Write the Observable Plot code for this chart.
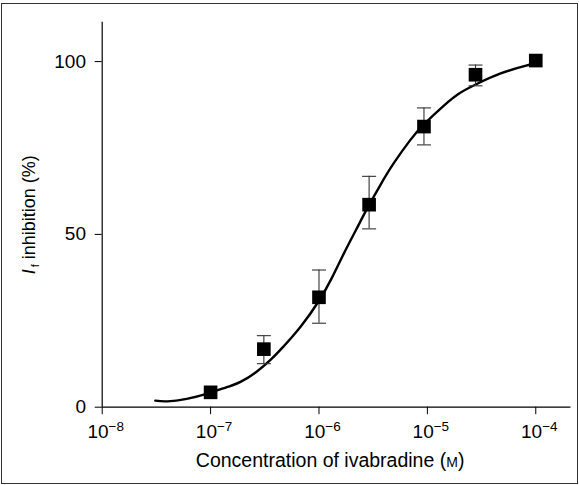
<!DOCTYPE html>
<html>
<head>
<meta charset="utf-8">
<script src="https://cdn.jsdelivr.net/npm/d3@7"></script>
<script src="https://cdn.jsdelivr.net/npm/@observablehq/plot@0.6"></script>
<style>
  html, body { margin: 0; padding: 0; background: #fff; }
  #wrap { position: relative; width: 579px; height: 485px; overflow: hidden; }
  #border { position: absolute; left: 1px; top: 3px; width: 575px; height: 479px;
            border: 1.5px solid #333; pointer-events: none; }
</style>
</head>
<body>
<div id="wrap"><div id="border"></div></div>
<script>
// Measured points: concentration (M), mean inhibition (%), error bar low/high (%)
const concentrations = [1e-7, 3.1e-7, 1e-6, 2.9e-6, 9.3e-6, 2.78e-5, 1e-4];
const inhibition     = [4.3, 16.8, 31.8, 58.6, 81.2, 96.2, 100.3];
const errLow         = [null, 12.6, 24.3, 51.6, 75.9, 93.0, null];
const errHigh        = [null, 20.7, 39.7, 66.8, 86.6, 99.0, null];

// Fitted curve: log10(concentration), inhibition (%)
const curveLogX = [-7.51, -7.40, -7.22, -7.03, -6.85, -6.72, -6.57, -6.45, -6.35, -6.17,
                   -6.00, -5.88, -5.77, -5.66, -5.55, -5.43, -5.31, -5.16, -5.03, -4.85,
                   -4.70, -4.54, -4.33, -4.14, -4.00];
const curveY    = [1.9, 1.7, 2.4, 3.9, 5.8, 7.4, 10.4, 13.6, 16.8, 23.3,
                   30.8, 37.5, 44.5, 51.2, 57.8, 64.5, 70.6, 77.2, 81.9, 87.2,
                   90.9, 93.6, 96.5, 98.4, 99.6];

const xTickExponents = [-8, -7, -6, -5, -4];
const yTicks = [0, 50, 100];
const xLabel = "Concentration of ivabradine (M)";
const yLabel = "If inhibition (%)";

const points = concentrations.map((c, i) => ({c, v: inhibition[i], lo: errLow[i], hi: errHigh[i]}));
const bars = points.filter(d => d.lo != null);
const curve = curveLogX.map((lx, i) => ({c: Math.pow(10, lx), v: curveY[i]}));
const xTicks = xTickExponents.map(e => Math.pow(10, e));

const capSymbol = {
  draw(context) { context.moveTo(-7, 0); context.lineTo(7, 0); }
};

const chart = Plot.plot({
  width: 579,
  height: 485,
  marginLeft: 101.7,
  marginRight: 8.5,
  marginTop: 21.7,
  marginBottom: 78.3,
  style: {fontFamily: "'Liberation Sans', Arial, Helvetica, sans-serif", fontSize: "19px", background: "transparent", color: "#000"},
  x: {type: "log", domain: [1e-8, Math.pow(10, -3.675)]},
  y: {domain: [0, 111.4]},
  marks: [
    Plot.axisX({ticks: xTicks, tickSize: 7.5, tickPadding: 9.8, stroke: "#000", fontSize: 19,
      tickFormat: d => String(Math.round(Math.log10(d))),
      label: xLabel, labelAnchor: "center", labelOffset: 59.6, labelArrow: "none"}),
    Plot.axisY({ticks: yTicks, tickSize: 7, tickPadding: 9.2, stroke: "#000", fontSize: 19,
      label: yLabel, labelAnchor: "center", labelOffset: 80, labelArrow: "none"}),
    Plot.ruleY([0], {stroke: "#000", strokeWidth: 1.2}),
    Plot.ruleX([1e-8], {stroke: "#000", strokeWidth: 1.2}),
    Plot.line(curve, {x: "c", y: "v", curve: "natural", stroke: "#000", strokeWidth: 2.4}),
    Plot.ruleX(bars, {x: "c", y1: "lo", y2: "hi", stroke: "#333", strokeWidth: 1.1}),
    Plot.dot(bars, {x: "c", y: "lo", symbol: capSymbol, stroke: "#333", strokeWidth: 1.1, fill: "none"}),
    Plot.dot(bars, {x: "c", y: "hi", symbol: capSymbol, stroke: "#333", strokeWidth: 1.1, fill: "none"}),
    Plot.dot(points, {x: "c", y: "v", symbol: "square", r: 7.7, fill: "#000", stroke: "none"})
  ]
});

document.getElementById("wrap").prepend(chart);

// Typographic details: superscript exponents, italic I with subscript f, small-cap M
const svg = d3.select(chart);
svg.selectAll('g[aria-label="x-axis tick label"] text').each(function () {
  const e = this.textContent.replace("-", "\u2212");
  this.textContent = "10";
  d3.select(this).attr("dx", "3.5")
    .append("tspan").attr("dy", "-7").attr("font-size", "13.5").text(e);
});
svg.selectAll('g[aria-label="y-axis label"] text').each(function () {
  this.textContent = "";
  const t = d3.select(this).attr("font-size", "18");
  t.append("tspan").attr("font-style", "italic").text("I");
  t.append("tspan").attr("font-size", "11").attr("dy", "4").attr("dx", "2").text("f");
  t.append("tspan").attr("dy", "-4").text(" inhibition (%)");
});
svg.selectAll('g[aria-label="x-axis label"] text').each(function () {
  this.textContent = "";
  const t = d3.select(this).attr("dx", "-6.5").attr("font-size", "19.5");
  t.append("tspan").text("Concentration of ivabradine (");
  t.append("tspan").attr("font-size", "14").text("M");
  t.append("tspan").text(")");
});
</script>
</body>
</html>
